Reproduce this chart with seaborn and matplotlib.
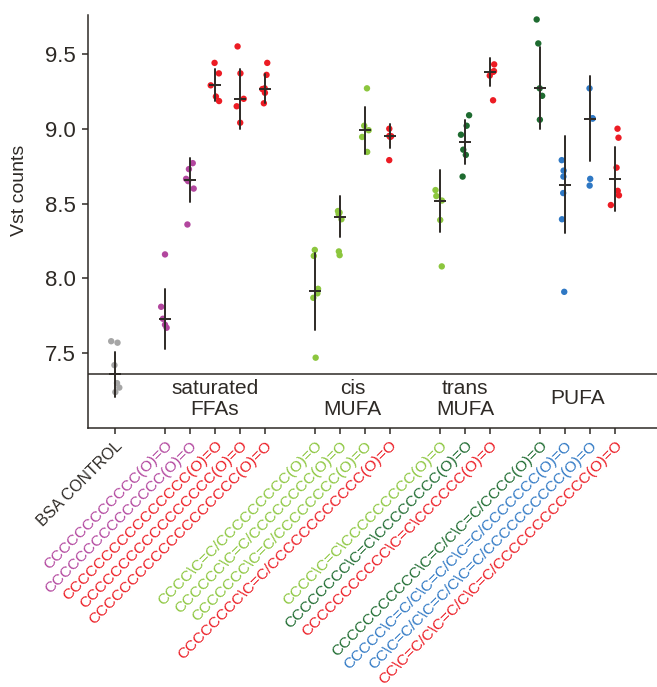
import matplotlib
matplotlib.use("Agg")
import matplotlib.pyplot as plt
import numpy as np
import pandas as pd
import seaborn as sns

# compounds per group (SMILES as shown on the axis)
control = ["BSA CONTROL"]
saturated = ["CCCCCCCCCCCC(O)=O",
             "CCCCCCCCCCCCCCC(O)=O",
             "CCCCCCCCCCCCCCCC(O)=O",
             "CCCCCCCCCCCCCCCCC(O)=O",
             "CCCCCCCCCCCCCCCCCCC(O)=O"]
cis_mufa = ["CCCC\\C=C/CCCCCCCCC(O)=O",
            "CCCCCC\\C=C/CCCCCCCC(O)=O",
            "CCCCCCC\\C=C/CCCCCCCC(O)=O",
            "CCCCCCCC\\C=C/CCCCCCCCCCCC(O)=O"]
trans_mufa = ["CCCC\\C=C\\CCCCCCCCC(O)=O",
              "CCCCCCCC\\C=C\\CCCCCCCC(O)=O",
              "CCCCCCCCCCC\\C=C\\CCCCCC(O)=O"]
pufa = ["CCCCCCCCCCC\\C=C/C\\C=C/CCCC(O)=O",
        "CCCCC\\C=C/C\\C=C/C\\C=C/CCCCCCC(O)=O",
        "CC\\C=C/C\\C=C/C\\C=C/CCCCCCCCCC(O)=O",
        "CC\\C=C/C\\C=C/C\\C=C/CCCCCCCCCCCC(O)=O"]
group_names = ["saturated\nFFAs", "cis\nMUFA", "trans\nMUFA", "PUFA"]

# colour of each compound (points + tick label)
control_colors = ["#a6a6a6"]
saturated_colors = ["#b2469e", "#b2469e", "#ec1c24", "#ec1c24", "#ec1c24"]
cis_colors = ["#8cc63e", "#8cc63e", "#8cc63e", "#ec1c24"]
trans_colors = ["#8cc63e", "#1e6b30", "#ec1c24"]
pufa_colors = ["#1e6b30", "#2f78c4", "#2f78c4", "#ec1c24"]

# Vst counts, replicates per compound
control_vst = [[7.58, 7.57, 7.42, 7.30, 7.27, 7.24]]
saturated_vst = [[8.16, 7.81, 7.73, 7.69, 7.67],
                 [8.77, 8.73, 8.665, 8.65, 8.60, 8.36],
                 [9.44, 9.37, 9.29, 9.215, 9.185],
                 [9.55, 9.37, 9.20, 9.15, 9.04],
                 [9.44, 9.36, 9.27, 9.265, 9.24, 9.17]]
cis_vst = [[8.19, 8.15, 7.93, 7.90, 7.87, 7.47],
           [8.45, 8.44, 8.43, 8.395, 8.18, 8.155],
           [9.27, 9.02, 8.99, 8.945, 8.845],
           [9.00, 8.952, 8.95, 8.945, 8.79]]
trans_vst = [[8.59, 8.55, 8.52, 8.39, 8.08],
             [9.09, 9.02, 8.96, 8.86, 8.825, 8.68],
             [9.43, 9.385, 9.38, 9.355, 9.19]]
pufa_vst = [[9.73, 9.57, 9.27, 9.22, 9.06],
            [8.79, 8.72, 8.68, 8.57, 8.395, 7.91],
            [9.27, 9.07, 9.068, 8.665, 8.62],
            [9.00, 8.94, 8.74, 8.585, 8.555, 8.49]]

ink = "#2e2a26"

groups = [control, saturated, cis_mufa, trans_mufa, pufa]
compounds = sum(groups, [])
colors = dict(zip(compounds, control_colors + saturated_colors + cis_colors
                  + trans_colors + pufa_colors))
values = control_vst + saturated_vst + cis_vst + trans_vst + pufa_vst

df = pd.DataFrame([(c, v) for c, vals in zip(compounds, values) for v in vals],
                  columns=["compound", "vst"])

# category order with an empty slot between groups
order = []
for i, g in enumerate(groups):
    if i:
        order.append(" " * i)
    order += g

sns.set_theme(style="ticks")
plt.rcParams["font.family"] = ["Liberation Sans", "DejaVu Sans"]
plt.rcParams["text.color"] = ink

fig = plt.figure(figsize=(6.57, 6.87), dpi=100)
ax = fig.add_axes([88 / 657, 1 - 428 / 687, 1 - 88 / 657, 413 / 687])

np.random.seed(7)
sns.stripplot(data=df, x="compound", y="vst", hue="compound", order=order,
              palette=colors, jitter=0.18, size=4.6, linewidth=0,
              legend=False, ax=ax, zorder=1)
sns.pointplot(data=df, x="compound", y="vst", order=order,
              estimator="median", errorbar="sd", color=ink, markers="_",
              markersize=9, markeredgewidth=1.4, linestyle="none",
              err_kws={"linewidth": 1.4, "zorder": 3}, zorder=4, ax=ax)

ax.axhline(np.median(control_vst[0]), color=ink, lw=1.1, zorder=0)

ax.set_xlim(-1.08, 21.68)
ax.set_ylim(7.0, 9.76)
ax.set_yticks([7.5, 8.0, 8.5, 9.0, 9.5])
ax.set_yticklabels([f"{t:.1f}" for t in ax.get_yticks()], fontsize=16)

pos = [order.index(c) for c in compounds]
ax.set_xticks(pos)
ax.set_xticklabels(compounds, rotation=45, ha="right", rotation_mode="anchor",
                   fontsize=11.1)

for name, g in zip(group_names, groups[1:]):
    xc = np.mean([order.index(c) for c in g])
    ax.text(xc, 7.196, name, ha="center", va="center", fontsize=15,
            linespacing=1.15, color=ink)

ax.set_xlabel("")
ax.set_ylabel("Vst counts", fontsize=14, color=ink)
ax.yaxis.set_label_coords(-0.105, 0.576)

sns.despine(ax=ax)
for s in ["left", "bottom"]:
    ax.spines[s].set_color(ink)
    ax.spines[s].set_linewidth(1.1)
ax.tick_params(direction="out", length=4, width=1.1, color=ink, labelcolor=ink)
ax.tick_params(axis="y", pad=5)
for lab in ax.get_xticklabels():
    if lab.get_text() == "BSA CONTROL":
        lab.set_color(ink)
        lab.set_fontsize(11.5)
    else:
        lab.set_color(colors[lab.get_text()])

fig.savefig("out.png", dpi=100)
